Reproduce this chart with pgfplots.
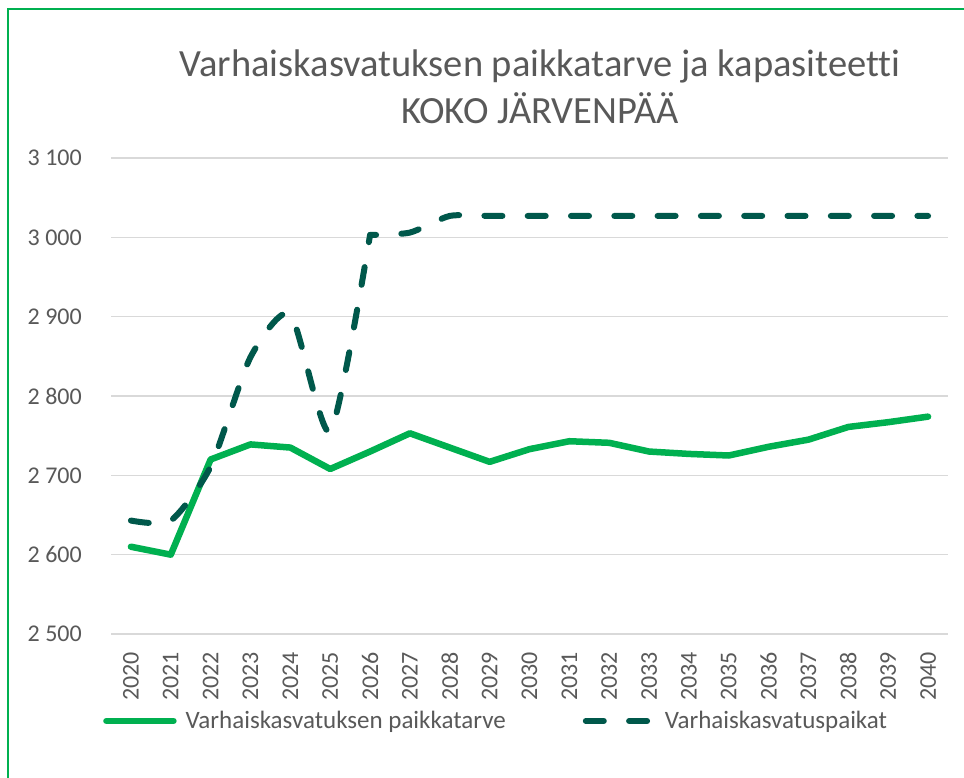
\documentclass[border=0pt]{standalone}
\usepackage{fontspec}
\setmainfont{Carlito}[Ligatures=NoCommon]
\usepackage{pgfplots}
\pgfplotsset{compat=1.18}
\definecolor{needgreen}{HTML}{00B050}
\definecolor{placedark}{HTML}{00584B}
\definecolor{textgray}{HTML}{595959}
\definecolor{gridgray}{HTML}{D9D9D9}
\begin{document}
\begin{tikzpicture}
% frame of the whole picture, 1pt = 1px of the reference
\useasboundingbox (0,0) rectangle (964pt,-778pt);
\fill[white] (0,0) rectangle (964pt,-778pt);
\draw[needgreen, line width=1.5pt] (8pt,-778pt) -- (8pt,-9pt) -- (964pt,-9pt);

\node[anchor=base, text=textgray, font=\fontsize{38.5}{44}\selectfont] at (540pt,-77pt)
  {Varhaiskasvatuksen paikkatarve ja kapasiteetti};
\node[anchor=base, text=textgray, font=\fontsize{38.5}{44}\selectfont] at (540pt,-124pt)
  {KOKO JÄRVENPÄÄ};

\begin{axis}[
  at={(111pt,-634pt)}, anchor=south west,
  scale only axis, width=837pt, height=476pt,
  xmin=2019.5, xmax=2040.5,
  ymin=2500, ymax=3100,
  xtick={2020,2021,...,2040},
  ytick={2500,2600,...,3100},
  ymajorgrids=true,
  grid style={color=gridgray, line width=1.3pt},
  axis line style={draw=none},
  major tick length=0pt,
  /pgf/number format/assume math mode=true,
  /pgf/number format/1000 sep={\ },
  tick label style={font=\fontsize{24}{28}\selectfont, text=textgray, inner sep=0pt},
  x tick label style={rotate=90, anchor=east, /pgf/number format/1000 sep={}},
  y tick label style={anchor=east},
  xticklabel shift=18pt,
  yticklabel shift=29pt,
  legend columns=2,
  legend cell align=left,
  legend image code/.code={\draw[#1] (0pt,0pt) -- (67pt,0pt);},
  legend style={at={(rel axis cs:-0.00956,-0.1827)}, anchor=west,
    draw=none, fill=none, inner sep=0pt,
    font=\fontsize{25}{29}\selectfont, text=textgray,
    nodes={inner sep=0pt},
    /tikz/every odd column/.append style={column sep=9pt},
    /tikz/every even column/.append style={column sep=77pt}},
]
\addplot[color=needgreen, line width=6.5pt, line join=round, line cap=round]
  coordinates {(2020,2610)(2021,2600)(2022,2720)(2023,2739)(2024,2735)
    (2025,2708)(2026,2730)(2027,2753)(2028,2735)(2029,2717)(2030,2733)
    (2031,2743)(2032,2741)(2033,2730)(2034,2727)(2035,2725)(2036,2736)
    (2037,2745)(2038,2761)(2039,2767)(2040,2774)};
\addplot[color=placedark, line width=6pt, line cap=round, smooth, tension=0.4,
    dash pattern=on 18pt off 25.3pt]
  coordinates {(2020,2643)(2021,2643)(2022,2711)(2023,2849)(2024,2903)
    (2025,2755)(2026,3003)};
\addplot[color=placedark, line width=6pt, line cap=round, smooth, tension=0.4,
    dash pattern=on 18pt off 25.3pt, dash phase=12pt, forget plot]
  coordinates {(2026,3003)(2027,3006)(2028,3027)(2029,3027)(2030,3027)
    (2031,3027)(2032,3027)(2033,3027)(2034,3027)(2035,3027)(2036,3027)
    (2037,3027)(2038,3027)(2039,3027)(2040,3027)};
\legend{Varhaiskasvatuksen paikkatarve, Varhaiskasvatuspaikat}
\end{axis}
\end{tikzpicture}
\end{document}
